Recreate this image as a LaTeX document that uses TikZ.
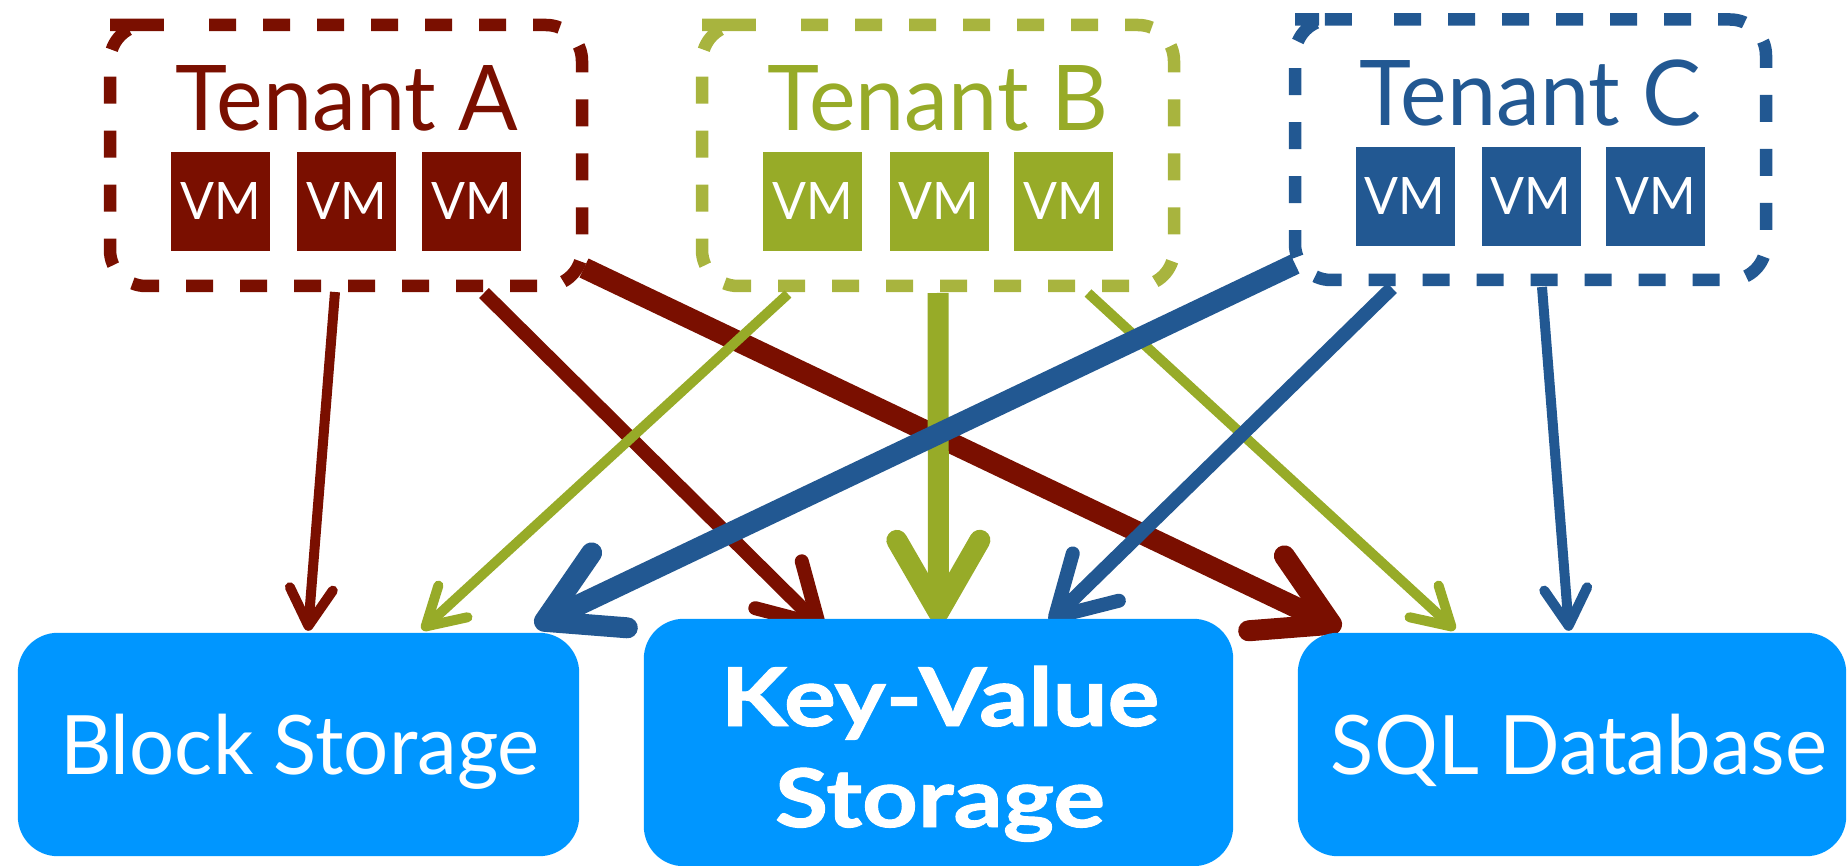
\documentclass[tikz,border=0pt]{standalone}
\usepackage{fontspec}
\setmainfont{Lato}[FakeStretch=0.972]
\newfontfamily\kvfont{Lato}[FakeStretch=1.2, BoldFeatures={FakeBold=1.2}]
\usetikzlibrary{arrows.meta}
\definecolor{tred}{RGB}{122,15,0}
\definecolor{tgreen}{RGB}{151,171,40}
\definecolor{tgreendash}{RGB}{168,180,62}
\definecolor{tblue}{RGB}{34,88,146}
\definecolor{sblue}{RGB}{0,150,255}
\begin{document}
\begin{tikzpicture}[x=1pt,y=-1pt,
  tenant/.style={minimum width=472pt, minimum height=261pt, inner sep=0pt, outer sep=0pt},
  border/.style={line width=12.5pt, rounded corners=36pt, dash pattern=on 27pt off 27pt, dash phase=27pt},
  title/.style={anchor=base, inner sep=0pt, font=\fontsize{90.7}{100}\selectfont},
  vm/.style={minimum width=99pt, minimum height=99pt, inner sep=0pt, text=white, font=\fontsize{51.6}{60}\selectfont},
  store/.style={rounded corners=40pt, inner sep=0pt},
  storetext/.style={anchor=base, text=white, inner sep=0pt, font=\fontsize{82}{90}\selectfont},
  kvtext/.style={anchor=base, text=white, inner sep=0pt, font=\fontsize{81}{90}\kvfont\bfseries},
  thinarrow/.style={line width=10pt, -{Straight Barb[length=37pt,width=43pt,round]}},
  medarrow/.style={line width=14pt, -{Straight Barb[length=57pt,width=66pt,round]}},
  thickarrow/.style={line width=21pt, -{Straight Barb[length=72pt,width=83pt,round]}}
]
\useasboundingbox (0,0) rectangle (1848,866);

% tenants
\node[tenant] (ta) at (346,155.5) {};
\node[tenant] (tb) at (938,155.5) {};
\node[tenant, minimum width=471pt, minimum height=260.5pt] (tc) at (1530.5,149.75) {};
\draw[tred, border] ([xshift=36pt]ta.north west) -- (ta.north east) -- (ta.south east) -- (ta.south west) -- (ta.north west) -- cycle;
\draw[tgreendash, border] ([xshift=36pt]tb.north west) -- (tb.north east) -- (tb.south east) -- (tb.south west) -- (tb.north west) -- cycle;
\draw[tblue, border] ([xshift=36pt]tc.north west) -- (tc.north east) -- (tc.south east) -- (tc.south west) -- (tc.north west) -- cycle;

\node[title, text=tred] (tat) at (347,131) {Tenant A};
\node[title, text=tgreen] (tbt) at (938,131) {Tenant B};
\node[title, text=tblue] (tct) at (1530.5,126) {Tenant C};

\node[vm, fill=tred] (va1) at (220.5,201.5) {VM};
\node[vm, fill=tred] (va2) at (346.5,201.5) {VM};
\node[vm, fill=tred] (va3) at (471.5,201.5) {VM};
\node[vm, fill=tgreen] (vb1) at (812.5,201.5) {VM};
\node[vm, fill=tgreen] (vb2) at (939,201.5) {VM};
\node[vm, fill=tgreen] (vb3) at (1063.5,201.5) {VM};
\node[vm, fill=tblue] (vc1) at (1405,196.5) {VM};
\node[vm, fill=tblue] (vc2) at (1531,196.5) {VM};
\node[vm, fill=tblue] (vc3) at (1655.5,196.5) {VM};

% storage boxes (positions only, filled later so that they cover the arrow tips)
\node[store, minimum width=561pt, minimum height=223pt] (bs) at (298.5,744.5) {};
\node[store, minimum width=589pt, minimum height=247pt] (kv) at (938.5,742.5) {};
\node[store, minimum width=548pt, minimum height=223pt] (sql) at (1572,744.5) {};

% arrows: red
\draw[tred, thinarrow] ([shift={(-11,6)}]ta.south) -- ([shift={(9.5,-2)}]bs.north);
\draw[tred, medarrow] ([shift={(138,7)}]ta.south) -- ([shift={(-114.5,11)}]kv.north);
\draw[tred, thickarrow] ([shift={(238,-18)}]ta.south) -- ([shift={(-231,-4)}]sql.north);
% olive
\draw[tgreen, thinarrow] ([shift={(-150,8)}]tb.south) -- ([shift={(123.5,-3)}]bs.north);
\draw[tgreen, thickarrow] ([shift={(0,7)}]tb.south) -- ([shift={(0,4)}]kv.north);
\draw[tgreen, thinarrow] ([shift={(150,7)}]tb.south) -- ([shift={(-117,-3)}]sql.north);
% blue
\draw[tblue, thickarrow] ([shift={(-235.5,-16)}]tc.south) -- ([shift={(236.5,-7)}]bs.north);
\draw[tblue, medarrow] ([shift={(-138.5,8)}]tc.south) -- ([shift={(111.5,3)}]kv.north);
\draw[tblue, thinarrow] ([shift={(11.5,7)}]tc.south) -- ([shift={(-3,-2)}]sql.north);

% storage boxes drawn on top
\fill[sblue, rounded corners=40pt] (bs.south west) rectangle (bs.north east);
\fill[sblue, rounded corners=40pt] (kv.south west) rectangle (kv.north east);
\fill[sblue, rounded corners=40pt] (sql.south west) rectangle (sql.north east);

\node[storetext] (bst) at (300,774) {Block Storage};
\node[kvtext] (kvt1) at (940,726) {Key-Value};
\node[kvtext] (kvt2) at (940,827) {Storage};
\node[storetext] (sqlt) at (1579,774) {SQL Database};
\end{tikzpicture}
\end{document}
